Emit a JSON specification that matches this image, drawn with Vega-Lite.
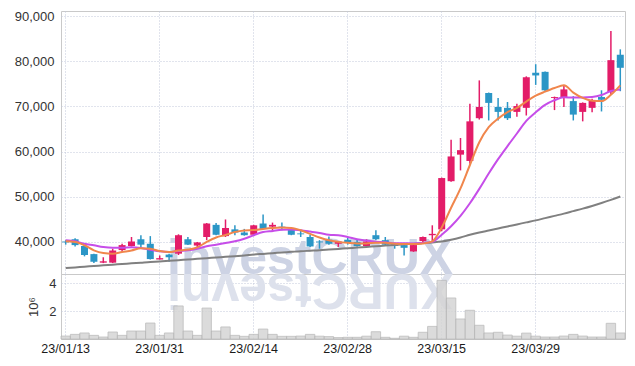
{
  "$schema": "https://vega.github.io/schema/vega-lite/v6.json",
  "padding": {"left": 13, "top": 9, "right": 9, "bottom": 5},
  "background": "white",
  "spacing": 0,
  "bounds": "flush",
  "config": {
    "view": {"stroke": "#c9c9c9", "strokeWidth": 1},
    "axis": {"labelFont": "Liberation Sans", "labelFontSize": 13, "labelColor": "#333333", "gridColor": "#c3c9da", "gridDash": [1, 2], "gridWidth": 1, "ticks": false, "domain": false, "titleFont": "Liberation Sans"}
  },
  "datasets": {
    "wm": [{"d": "23/02/22", "t": "investCRUX", "r": "XURCtsevni"}],
    "p": [
      {"d": "23/01/13", "o": 40000, "h": 40300, "l": 39300, "c": 39800, "v": 210000, "m5": 40040, "m10": 40270, "m60": 34100},
      {"d": "23/01/16", "o": 40500, "h": 40700, "l": 38900, "c": 39200, "v": 330000, "m5": 39890, "m10": 40040, "m60": 34250},
      {"d": "23/01/17", "o": 39000, "h": 39100, "l": 36700, "c": 37000, "v": 430000, "m5": 39160, "m10": 39510, "m60": 34400},
      {"d": "23/01/18", "o": 37200, "h": 37300, "l": 35200, "c": 35500, "v": 260000, "m5": 38040, "m10": 39160, "m60": 34550},
      {"d": "23/01/19", "o": 35300, "h": 36500, "l": 35200, "c": 35600, "v": 140000, "m5": 37440, "m10": 38780, "m60": 34700},
      {"d": "23/01/20", "o": 35300, "h": 38400, "l": 35200, "c": 38000, "v": 500000, "m5": 37290, "m10": 38620, "m60": 34850},
      {"d": "23/01/25", "o": 38100, "h": 39500, "l": 37700, "c": 39200, "v": 260000, "m5": 37670, "m10": 38620, "m60": 35000},
      {"d": "23/01/26", "o": 39000, "h": 41000, "l": 38900, "c": 40000, "v": 570000, "m5": 38000, "m10": 38710, "m60": 35150},
      {"d": "23/01/27", "o": 40500, "h": 41400, "l": 38800, "c": 39300, "v": 570000, "m5": 38500, "m10": 38560, "m60": 35300},
      {"d": "23/01/30", "o": 39500, "h": 41200, "l": 36000, "c": 36100, "v": 1140000, "m5": 38400, "m10": 38180, "m60": 35450},
      {"d": "23/01/31", "o": 36000, "h": 36900, "l": 36000, "c": 36300, "v": 260000, "m5": 37900, "m10": 37820, "m60": 35550},
      {"d": "23/02/01", "o": 37100, "h": 37300, "l": 35500, "c": 36500, "v": 430000, "m5": 37650, "m10": 37670, "m60": 35700},
      {"d": "23/02/02", "o": 37300, "h": 41600, "l": 37000, "c": 41400, "v": 2360000, "m5": 38000, "m10": 37890, "m60": 35850},
      {"d": "23/02/03", "o": 40500, "h": 41000, "l": 39200, "c": 39300, "v": 570000, "m5": 38200, "m10": 38040, "m60": 36000},
      {"d": "23/02/06", "o": 39100, "h": 39900, "l": 38400, "c": 39800, "v": 260000, "m5": 38700, "m10": 38400, "m60": 36150},
      {"d": "23/02/07", "o": 41000, "h": 44100, "l": 40300, "c": 44000, "v": 2210000, "m5": 39900, "m10": 38930, "m60": 36300},
      {"d": "23/02/08", "o": 43700, "h": 44100, "l": 41400, "c": 41500, "v": 570000, "m5": 40900, "m10": 39290, "m60": 36450},
      {"d": "23/02/09", "o": 41200, "h": 44900, "l": 41000, "c": 43000, "v": 860000, "m5": 41450, "m10": 39670, "m60": 36600},
      {"d": "23/02/10", "o": 42700, "h": 43600, "l": 41400, "c": 42000, "v": 260000, "m5": 42100, "m10": 40040, "m60": 36750},
      {"d": "23/02/13", "o": 42000, "h": 42800, "l": 41300, "c": 41400, "v": 190000, "m5": 42450, "m10": 40620, "m60": 36900},
      {"d": "23/02/14", "o": 41500, "h": 43700, "l": 41300, "c": 43600, "v": 330000, "m5": 42550, "m10": 41400, "m60": 37100},
      {"d": "23/02/15", "o": 44000, "h": 46000, "l": 42700, "c": 42800, "v": 710000, "m5": 42800, "m10": 42100, "m60": 37250},
      {"d": "23/02/16", "o": 43300, "h": 44200, "l": 42100, "c": 43700, "v": 330000, "m5": 43000, "m10": 42350, "m60": 37400},
      {"d": "23/02/17", "o": 43300, "h": 44200, "l": 42500, "c": 43100, "v": 190000, "m5": 43100, "m10": 42600, "m60": 37550},
      {"d": "23/02/20", "o": 42800, "h": 42900, "l": 41400, "c": 41500, "v": 190000, "m5": 43000, "m10": 42680, "m60": 37700},
      {"d": "23/02/21", "o": 41800, "h": 42400, "l": 41000, "c": 41600, "v": 210000, "m5": 42500, "m10": 42480, "m60": 37850},
      {"d": "23/02/22", "o": 41000, "h": 41500, "l": 38800, "c": 38900, "v": 330000, "m5": 41700, "m10": 42200, "m60": 37950},
      {"d": "23/02/23", "o": 40000, "h": 40300, "l": 38400, "c": 39800, "v": 200000, "m5": 40900, "m10": 41900, "m60": 38050},
      {"d": "23/02/24", "o": 40400, "h": 41100, "l": 39300, "c": 39500, "v": 170000, "m5": 40270, "m10": 41500, "m60": 38200},
      {"d": "23/02/27", "o": 39500, "h": 40100, "l": 38800, "c": 40000, "v": 100000, "m5": 39920, "m10": 41380, "m60": 38350},
      {"d": "23/02/28", "o": 40400, "h": 40800, "l": 39300, "c": 39700, "v": 120000, "m5": 39700, "m10": 41000, "m60": 38500},
      {"d": "23/03/02", "o": 39900, "h": 40400, "l": 38900, "c": 39000, "v": 120000, "m5": 39550, "m10": 40500, "m60": 38650},
      {"d": "23/03/03", "o": 39000, "h": 40500, "l": 38900, "c": 40000, "v": 200000, "m5": 39580, "m10": 40200, "m60": 38800},
      {"d": "23/03/06", "o": 41400, "h": 42500, "l": 40300, "c": 40500, "v": 520000, "m5": 39750, "m10": 39970, "m60": 38950},
      {"d": "23/03/07", "o": 40300, "h": 41000, "l": 39200, "c": 39300, "v": 120000, "m5": 39700, "m10": 39860, "m60": 39100},
      {"d": "23/03/08", "o": 39500, "h": 39700, "l": 38400, "c": 39000, "v": 50000, "m5": 39530, "m10": 39620, "m60": 39250},
      {"d": "23/03/09", "o": 39200, "h": 39400, "l": 36900, "c": 38600, "v": 200000, "m5": 39430, "m10": 39600, "m60": 39400},
      {"d": "23/03/10", "o": 37800, "h": 39300, "l": 37700, "c": 39200, "v": 120000, "m5": 39420, "m10": 39570, "m60": 39500},
      {"d": "23/03/13", "o": 40100, "h": 41100, "l": 39700, "c": 41000, "v": 480000, "m5": 39550, "m10": 39680, "m60": 39650},
      {"d": "23/03/14", "o": 41400, "h": 43600, "l": 39900, "c": 41700, "v": 900000, "m5": 40050, "m10": 39920, "m60": 39800},
      {"d": "23/03/15", "o": 42700, "h": 54200, "l": 42300, "c": 54100, "v": 4190000, "m5": 43100, "m10": 41500, "m60": 40000},
      {"d": "23/03/16", "o": 53400, "h": 62600, "l": 53300, "c": 58900, "v": 2930000, "m5": 47500, "m10": 43400, "m60": 40400},
      {"d": "23/03/17", "o": 59300, "h": 63000, "l": 55800, "c": 60300, "v": 1430000, "m5": 51800, "m10": 45700, "m60": 40900},
      {"d": "23/03/20", "o": 57900, "h": 70600, "l": 57300, "c": 66700, "v": 2050000, "m5": 57000, "m10": 48500, "m60": 41500},
      {"d": "23/03/21", "o": 67400, "h": 75800, "l": 67100, "c": 69900, "v": 980000, "m5": 62050, "m10": 51700, "m60": 42000},
      {"d": "23/03/22", "o": 73000, "h": 73100, "l": 66900, "c": 70800, "v": 430000, "m5": 65400, "m10": 55100, "m60": 42450},
      {"d": "23/03/23", "o": 69900, "h": 71900, "l": 66900, "c": 68800, "v": 480000, "m5": 67300, "m10": 58300, "m60": 42900},
      {"d": "23/03/24", "o": 69700, "h": 71000, "l": 67000, "c": 67400, "v": 280000, "m5": 68750, "m10": 61200, "m60": 43350},
      {"d": "23/03/27", "o": 68800, "h": 70600, "l": 67700, "c": 70100, "v": 200000, "m5": 69700, "m10": 64000, "m60": 43800},
      {"d": "23/03/28", "o": 69700, "h": 76700, "l": 68000, "c": 76500, "v": 420000, "m5": 71100, "m10": 66800, "m60": 44250},
      {"d": "23/03/29", "o": 77500, "h": 79400, "l": 74800, "c": 76900, "v": 200000, "m5": 72400, "m10": 68700, "m60": 44700},
      {"d": "23/03/30", "o": 77700, "h": 77800, "l": 73200, "c": 73600, "v": 140000, "m5": 73300, "m10": 70350, "m60": 45200},
      {"d": "23/03/31", "o": 71900, "h": 72200, "l": 69200, "c": 72100, "v": 140000, "m5": 74100, "m10": 71400, "m60": 45700},
      {"d": "23/04/03", "o": 72000, "h": 74700, "l": 69900, "c": 73800, "v": 210000, "m5": 74700, "m10": 72050, "m60": 46200},
      {"d": "23/04/04", "o": 71200, "h": 72300, "l": 66900, "c": 68200, "v": 330000, "m5": 73100, "m10": 72000, "m60": 46750},
      {"d": "23/04/05", "o": 68800, "h": 70900, "l": 66700, "c": 70800, "v": 210000, "m5": 71900, "m10": 72000, "m60": 47300},
      {"d": "23/04/06", "o": 69700, "h": 71700, "l": 68700, "c": 71400, "v": 140000, "m5": 71300, "m10": 72100, "m60": 47900},
      {"d": "23/04/07", "o": 72100, "h": 73600, "l": 68900, "c": 71500, "v": 140000, "m5": 71200, "m10": 72550, "m60": 48550},
      {"d": "23/04/10", "o": 73200, "h": 86800, "l": 72600, "c": 80300, "v": 1120000, "m5": 72600, "m10": 73450, "m60": 49250},
      {"d": "23/04/11", "o": 81500, "h": 82700, "l": 73400, "c": 78600, "v": 430000, "m5": 74700, "m10": 73770, "m60": 50000}
    ]
  },
  "vconcat": [
    {
      "width": 564,
      "height": 263,
      "encoding": {
        "x": {"field": "d", "type": "ordinal", "sort": "ascending", "scale": {"paddingInner": 0, "paddingOuter": 0},
          "axis": {"values": ["23/01/13", "23/01/31", "23/02/14", "23/02/28", "23/03/15", "23/03/29"], "labels": false, "grid": true, "title": null, "labelPadding": 0}}
      },
      "layer": [
        {
          "data": {"name": "wm"},
          "mark": {"type": "text", "font": "Liberation Sans", "fontWeight": "bold", "fontSize": 50, "align": "center", "baseline": "alphabetic", "color": "#cdd3e4"},
          "encoding": {
            "y": {"datum": 32780, "type": "quantitative", "scale": {"domain": [32780, 91220], "nice": false, "zero": false}, "axis": {"values": [40000, 50000, 60000, 70000, 80000, 90000], "labelExpr": "format(datum.value, ',')", "grid": true, "title": null, "labelPadding": 7}},
            "text": {"field": "t"}
          }
        },
        {
          "data": {"name": "p"},
          "mark": {"type": "rule", "strokeWidth": 1.5},
          "encoding": {
            "y": {"field": "l", "type": "quantitative", "scale": {"domain": [32780, 91220], "nice": false, "zero": false}, "axis": {"values": [40000, 50000, 60000, 70000, 80000, 90000], "labelExpr": "format(datum.value, ',')", "grid": true, "title": null, "labelPadding": 7}},
            "y2": {"field": "h"},
            "color": {"condition": {"test": "datum.c >= datum.o", "value": "#e31c68"}, "value": "#2b96c6"}
          }
        },
        {
          "data": {"name": "p"},
          "mark": {"type": "bar", "size": 7},
          "encoding": {
            "y": {"field": "o", "type": "quantitative", "scale": {"domain": [32780, 91220], "nice": false, "zero": false}},
            "y2": {"field": "c"},
            "color": {"condition": {"test": "datum.c >= datum.o", "value": "#e31c68"}, "value": "#2b96c6"}
          }
        },
        {
          "data": {"name": "p"},
          "mark": {"type": "line", "color": "#808080", "strokeWidth": 2, "interpolate": "monotone"},
          "encoding": {"y": {"field": "m60", "type": "quantitative", "scale": {"domain": [32780, 91220], "nice": false, "zero": false}}}
        },
        {
          "data": {"name": "p"},
          "mark": {"type": "line", "color": "#c64de9", "strokeWidth": 2, "interpolate": "monotone"},
          "encoding": {"y": {"field": "m10", "type": "quantitative", "scale": {"domain": [32780, 91220], "nice": false, "zero": false}}}
        },
        {
          "data": {"name": "p"},
          "mark": {"type": "line", "color": "#f0864c", "strokeWidth": 2, "interpolate": "monotone"},
          "encoding": {"y": {"field": "m5", "type": "quantitative", "scale": {"domain": [32780, 91220], "nice": false, "zero": false}}}
        }
      ]
    },
    {
      "width": 564,
      "height": 65,
      "encoding": {
        "x": {"field": "d", "type": "ordinal", "sort": "ascending", "scale": {"paddingInner": 0, "paddingOuter": 0},
          "axis": {"values": ["23/01/13", "23/01/31", "23/02/14", "23/02/28", "23/03/15", "23/03/29"], "labelAngle": 0, "labelFontSize": 12.5, "labelColor": "#1a1a1a", "labelPadding": 3, "grid": true, "title": null}}
      },
      "layer": [
        {
          "data": {"name": "wm"},
          "mark": {"type": "text", "font": "Liberation Sans", "fontWeight": "bold", "fontSize": 50, "align": "center", "baseline": "alphabetic", "angle": 180, "color": "#dde1ec"},
          "encoding": {
            "y": {"datum": 4643000, "type": "quantitative", "scale": {"domain": [0, 4643000], "nice": false}, "axis": {"values": [2000000, 4000000], "labelExpr": "datum.value / 1000000", "grid": true, "title": "10⁶", "titleFontWeight": "normal", "titleFontSize": 13, "titleColor": "#333333", "titlePadding": 8, "labelPadding": 5}},
            "text": {"field": "r"}
          }
        },
        {
          "data": {"name": "p"},
          "mark": {"type": "bar", "fill": "#d5d5d5", "stroke": "#b3b3b3", "strokeWidth": 0.8, "opacity": 0.85},
          "encoding": {"y": {"field": "v", "type": "quantitative", "scale": {"domain": [0, 4643000], "nice": false}, "axis": {"values": [2000000, 4000000], "labelExpr": "datum.value / 1000000", "grid": true, "title": "10⁶", "titleFontWeight": "normal", "titleFontSize": 13, "titleColor": "#333333", "titlePadding": 8, "labelPadding": 5}}}
        }
      ]
    }
  ]
}
